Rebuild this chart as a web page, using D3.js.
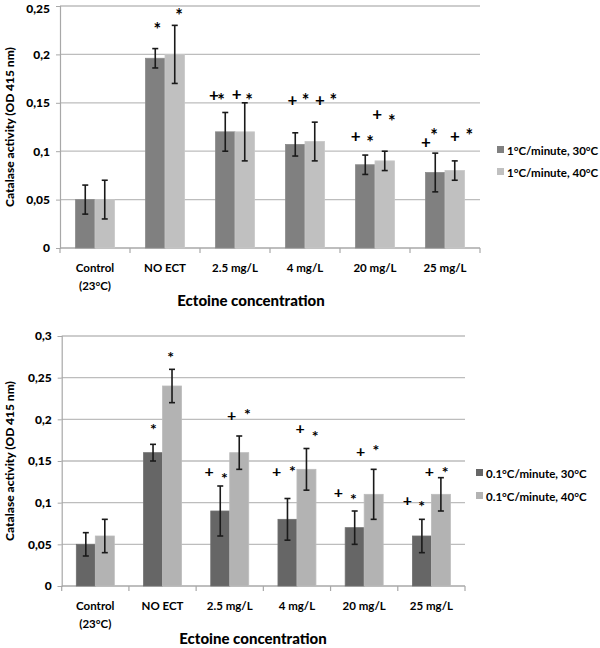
<!DOCTYPE html>
<html>
<head>
<meta charset="utf-8">
<script src="https://cdn.jsdelivr.net/npm/d3@7"></script>
<style>
  html, body { margin: 0; padding: 0; background: #fff; }
  svg { display: block; }
  text { font-family: Lato, "Open Sans", sans-serif; fill: #000; }
</style>
</head>
<body>
<svg id="chart" width="600" height="648"></svg>
<script>
// ---------- DATA ----------
const categories = [["Control", "(23°C)"], ["NO ECT"], ["2.5 mg/L"], ["4 mg/L"], ["20 mg/L"], ["25 mg/L"]];

// Top panel (1°C/minute)
const topSeries = ["1°C/minute, 30°C", "1°C/minute, 40°C"];
const top30 = [0.05, 0.196, 0.12, 0.107, 0.086, 0.078];
const top30Err = [0.015, 0.01, 0.02, 0.012, 0.01, 0.02];
const top40 = [0.05, 0.2, 0.12, 0.11, 0.09, 0.08];
const top40Err = [0.02, 0.03, 0.03, 0.02, 0.01, 0.01];
const topTicks = [0, 0.05, 0.1, 0.15, 0.2, 0.25];
const topTickLabels = ["0", "0,05", "0,1", "0,15", "0,2", "0,25"];
// significance marks: symbol, position along category axis (group index units), value level
const topMarkSym = ["*","*","+","*","+","*","+","*","+","*","+","*","+","*","+","*","+","*"];
const topMarkPos = [1.39,1.70,2.2,2.3,2.524,2.7,3.319,3.51,3.714,3.904,4.224,4.429,4.533,4.739,5.229,5.343,5.643,5.847];
const topMarkVal = [0.2294,0.2441,0.1584,0.1567,0.1592,0.1567,0.153,0.1567,0.153,0.1567,0.1163,0.1135,0.1386,0.1351,0.1094,0.1204,0.1163,0.1204];

// Bottom panel (0.1°C/minute)
const botSeries = ["0.1°C/minute, 30°C", "0.1°C/minute, 40°C"];
const bot30 = [0.05, 0.16, 0.09, 0.08, 0.07, 0.06];
const bot30Err = [0.014, 0.01, 0.03, 0.025, 0.02, 0.02];
const bot40 = [0.06, 0.24, 0.16, 0.14, 0.11, 0.11];
const bot40Err = [0.02, 0.02, 0.02, 0.025, 0.03, 0.02];
const botTicks = [0, 0.05, 0.1, 0.15, 0.2, 0.25, 0.3];
const botTickLabels = ["0", "0,05", "0,1", "0,15", "0,2", "0,25", "0,3"];
const botMarkSym = ["*","*","+","*","+","*","+","*","+","*","+","*","+","*","+","*","+","*"];
const botMarkPos = [1.363,1.622,2.192,2.42,2.53,2.762,3.199,3.432,3.546,3.769,4.116,4.339,4.449,4.673,5.143,5.357,5.47,5.704];
const botMarkVal = [0.1924,0.2784,0.1372,0.1332,0.2052,0.2104,0.1372,0.142,0.1892,0.1844,0.112,0.108,0.162,0.1672,0.1032,0.1004,0.1372,0.1412];

const yTitle = "Catalase activity (OD 415 nm)";
const xTitle = "Ectoine concentration";

// ---------- DRAW ----------
const svg = d3.select("#chart");

function drawPanel(cfg) {
  const g = svg.append("g");
  const idx = d3.range(categories.length);
  const x0 = d3.scaleBand().domain(idx).range([cfg.left, cfg.right])
    .paddingInner(cfg.padInner).paddingOuter(cfg.padInner / 2);
  const x1 = d3.scaleBand().domain([0, 1]).range([0, x0.bandwidth()]);
  const xPos = d3.scaleLinear().domain([0, categories.length]).range([cfg.left, cfg.right]);
  const y = d3.scaleLinear().domain([0, cfg.max]).range([cfg.bottom, cfg.top]);

  // gridlines
  g.append("g").selectAll("line").data(cfg.ticks.filter(t => t > 0)).join("line")
    .attr("x1", cfg.left).attr("x2", cfg.gridRight)
    .attr("y1", d => y(d)).attr("y2", d => y(d))
    .attr("stroke", "#bdbdbd").attr("stroke-width", 1.3);

  // y axis
  const yAxis = d3.axisLeft(y).tickValues(cfg.ticks)
    .tickFormat((d, i) => cfg.tickLabels[i]).tickSize(4).tickPadding(6);
  const ya = g.append("g").attr("transform", `translate(${cfg.left},0)`).call(yAxis);
  ya.select(".domain").attr("stroke", "#a8a8a8").attr("stroke-width", 1.2);
  ya.selectAll(".tick line").attr("stroke", "#a8a8a8");
  ya.selectAll(".tick text").attr("font-family", "Lato, sans-serif")
    .attr("font-size", 12).attr("font-weight", 900).attr("fill", "#111")
    .attr("dy", d => (y(d) < 8 ? "0.5em" : "0.32em"));

  // x axis
  const xa = g.append("g").attr("transform", `translate(0,${cfg.bottom})`);
  xa.append("line").attr("x1", cfg.left).attr("x2", cfg.gridRight)
    .attr("y1", 0).attr("y2", 0).attr("stroke", "#a8a8a8").attr("stroke-width", 1.3);
  xa.selectAll("line.tk").data(d3.range(categories.length + 1)).join("line")
    .attr("class", "tk")
    .attr("x1", d => xPos(d)).attr("x2", d => xPos(d))
    .attr("y1", 0).attr("y2", 5).attr("stroke", "#a8a8a8").attr("stroke-width", 1.2);
  const lbl = xa.selectAll("text.cat").data(idx).join("text").attr("class", "cat")
    .attr("text-anchor", "middle").attr("font-size", 11.5).attr("font-weight", 700).attr("fill", "#111");
  lbl.each(function (d) {
    const t = d3.select(this);
    categories[d].forEach((line, k) => {
      t.append("tspan").attr("x", x0(d) + x0.bandwidth() / 2)
        .attr("y", 24 + k * 18).text(line);
    });
  });

  // bars
  const series = [cfg.s30, cfg.s40];
  const errs = [cfg.e30, cfg.e40];
  series.forEach((vals, s) => {
    g.append("g").selectAll("rect").data(idx).join("rect")
      .attr("x", d => x0(d) + x1(s))
      .attr("width", x1.bandwidth())
      .attr("y", d => y(vals[d]))
      .attr("height", d => y(0) - y(vals[d]))
      .attr("fill", cfg.colors[s])
      .attr("stroke", cfg.edge[s]).attr("stroke-width", 0.8);
  });
  // error bars
  series.forEach((vals, s) => {
    const eg = g.append("g").attr("stroke", "#1a1a1a").attr("stroke-width", 1.6);
    idx.forEach(d => {
      const cx = x0(d) + x1(s) + x1.bandwidth() / 2;
      const hi = y(vals[d] + errs[s][d]), lo = y(vals[d] - errs[s][d]);
      eg.append("line").attr("x1", cx).attr("x2", cx).attr("y1", hi).attr("y2", lo);
      eg.append("line").attr("x1", cx - 3).attr("x2", cx + 3).attr("y1", hi).attr("y2", hi);
      eg.append("line").attr("x1", cx - 3).attr("x2", cx + 3).attr("y1", lo).attr("y2", lo);
    });
  });

  // significance marks
  g.append("g").selectAll("text").data(cfg.markSym.map((s, i) => i)).join("text")
    .attr("text-anchor", "middle")
    .attr("font-weight", 700)
    .attr("font-family", i => cfg.markSym[i] === "+" ? "Lato, sans-serif" : "'DejaVu Sans', sans-serif")
    .attr("font-size", i => cfg.markSym[i] === "+" ? cfg.plusSize : cfg.starSize)
    .attr("x", i => xPos(cfg.markPos[i]))
    .attr("y", i => y(cfg.markVal[i]) + (cfg.markSym[i] === "+" ? 0.36 * cfg.plusSize : 0.58 * cfg.starSize))
    .text(i => cfg.markSym[i]);

  // axis titles
  g.append("text").attr("x", cfg.xTitleX).attr("y", cfg.bottom + 58)
    .attr("text-anchor", "middle").attr("font-size", 15).attr("font-weight", 900)
    .text(xTitle);
  g.append("text")
    .attr("transform", `translate(${14},${(cfg.top + cfg.bottom) / 2}) rotate(-90)`)
    .attr("text-anchor", "middle").attr("font-size", 12).attr("font-weight", 900)
    .text(yTitle);

  // legend
  const lg = g.append("g");
  cfg.names.forEach((n, s) => {
    const ly = cfg.legY + s * cfg.legGap;
    lg.append("rect").attr("x", cfg.legX).attr("y", ly - 4).attr("width", 7).attr("height", 7)
      .attr("fill", cfg.colors[s]);
    lg.append("text").attr("x", cfg.legX + 10).attr("y", ly + 4.5)
      .attr("font-size", cfg.legFont).attr("font-weight", 700).attr("fill", "#111").text(n);
  });
}

drawPanel({
  left: 60, right: 480, gridRight: 480, top: 6, bottom: 248, max: 0.25,
  padInner: 0.443,
  ticks: topTicks, tickLabels: topTickLabels,
  s30: top30, s40: top40, e30: top30Err, e40: top40Err,
  colors: ["#808080", "#c0c0c0"], edge: ["#8a8a8a", "#c8c8c8"],
  markSym: topMarkSym, markPos: topMarkPos, markVal: topMarkVal,
  plusSize: 17, starSize: 18,
  names: topSeries, legX: 497, legY: 150, legGap: 22, legFont: 11.5,
  xTitleX: 251
});

drawPanel({
  left: 61.7, right: 465, gridRight: 465, top: 336, bottom: 586, max: 0.3,
  padInner: 0.435,
  ticks: botTicks, tickLabels: botTickLabels,
  s30: bot30, s40: bot40, e30: bot30Err, e40: bot40Err,
  colors: ["#666666", "#b3b3b3"], edge: ["#707070", "#bcbcbc"],
  markSym: botMarkSym, markPos: botMarkPos, markVal: botMarkVal,
  plusSize: 16, starSize: 16,
  names: botSeries, legX: 476, legY: 473, legGap: 23, legFont: 11.5,
  xTitleX: 253
});
</script>
</body>
</html>
